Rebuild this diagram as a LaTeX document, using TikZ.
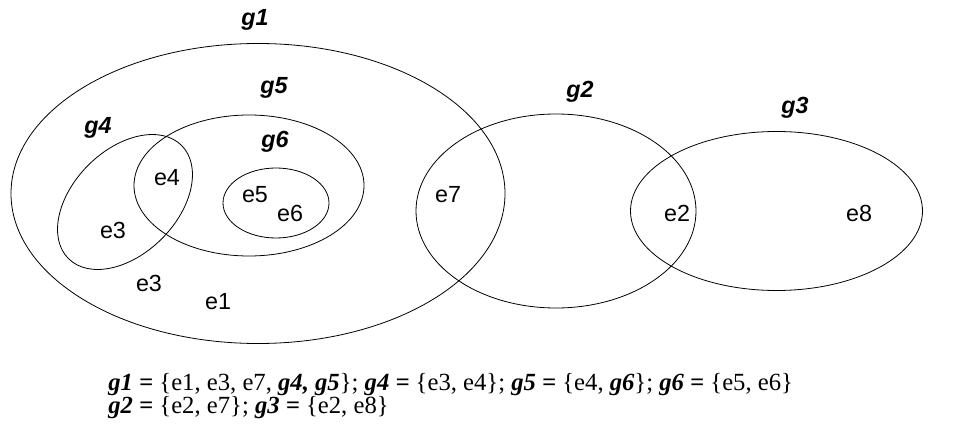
\documentclass[tikz,border=0pt]{standalone}
\usepackage{fontspec}
\setmainfont{Liberation Serif}
\setsansfont{Liberation Sans}
\newcommand{\grp}[1]{\textbf{\textit{#1}}}
\tikzset{
  elem/.style={inner sep=0pt,font=\sffamily\fontsize{17.5}{17.5}\selectfont},
  grplab/.style={inner sep=0pt,font=\sffamily\bfseries\itshape\fontsize{17.5}{17.5}\selectfont},
  defs/.style={inner sep=0pt,anchor=base west,font=\fontsize{18.5}{18.5}\selectfont}
}
\begin{document}
\begin{tikzpicture}[x=0.75pt,y=-0.75pt,line width=0.6pt]
  \useasboundingbox (0,0) rectangle (959,438);
  % the groups
  \draw (258,193.5) ellipse [x radius=247,y radius=150];
  \draw (249,185.5) ellipse [x radius=115,y radius=70.5];
  \draw (276,203) ellipse [x radius=53,y radius=35];
  \draw[rotate around={45:(125,202)}] (125,202) ellipse [x radius=80,y radius=52];
  \draw (556,211) ellipse [x radius=140,y radius=97];
  \draw (776.5,211) ellipse [x radius=146,y radius=79.5];
  % group names
  \node[grplab] (g1) at (255,20) {g1};
  \node[grplab] (g5) at (274,88) {g5};
  \node[grplab] (g4) at (98,128) {g4};
  \node[grplab] (g6) at (275,142) {g6};
  \node[grplab] (g2) at (580,92) {g2};
  \node[grplab] (g3) at (795,108) {g3};
  % elements
  \node[elem] (e4) at (167,178) {e4};
  \node[elem] (e5) at (255,195) {e5};
  \node[elem] (e6) at (290,213) {e6};
  \node[elem] (e3a) at (113,230) {e3};
  \node[elem] (e3b) at (149,283) {e3};
  \node[elem] (e1) at (218,302) {e1};
  \node[elem] (e7) at (448,195) {e7};
  \node[elem] (e2) at (677,213) {e2};
  \node[elem] (e8) at (859,213) {e8};
  % definitions below
  \node[defs] (def1) at (108,390) {\grp{g1 =} \{e1, e3, e7, \grp{g4, g5}\}; \grp{g4 =} \{e3, e4\}; \grp{g5 =} \{e4, \grp{g6}\}; \grp{g6 =} \{e5, e6\}};
  \node[defs] (def2) at (108,413) {\grp{g2 =} \{e2, e7\}; \grp{g3 =} \{e2, e8\}};
\end{tikzpicture}
\end{document}
